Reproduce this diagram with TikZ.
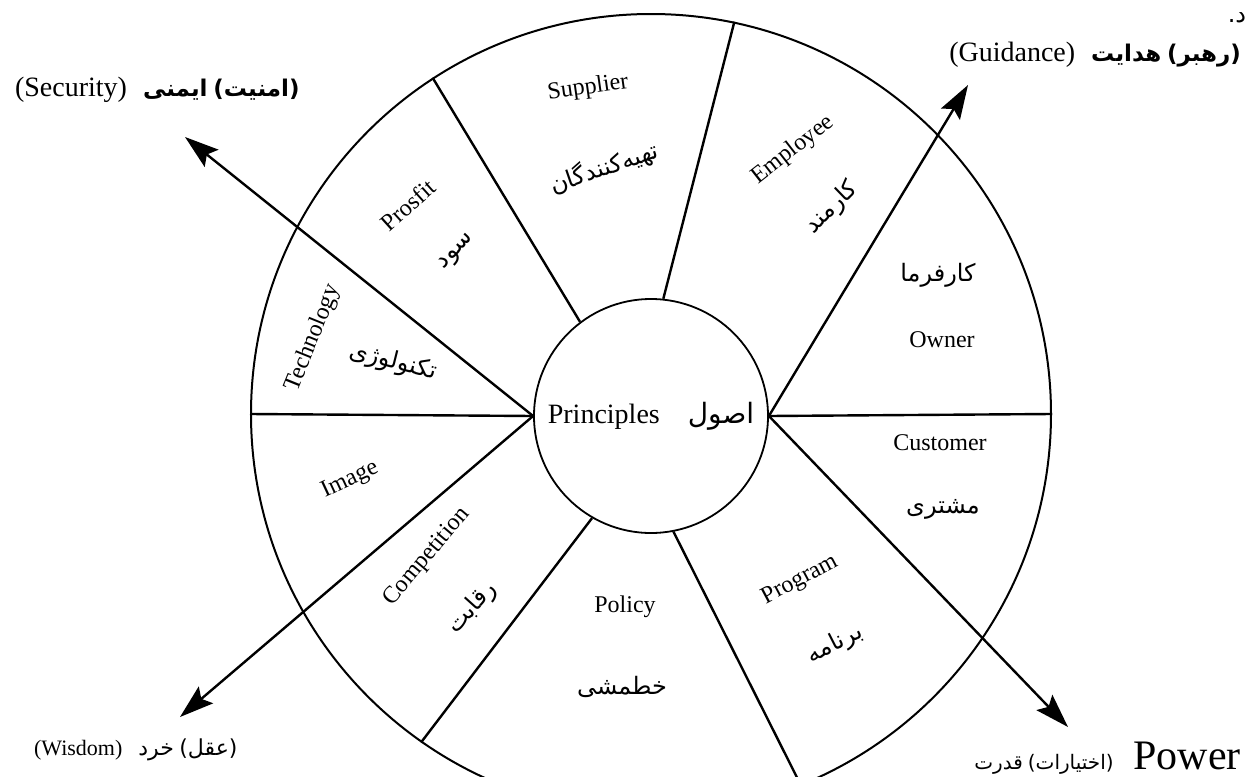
\documentclass[tikz,border=0pt]{standalone}
\usepackage{fontspec}
\setmainfont{Liberation Serif}
\newfontfamily\arabicfont[Script=Arabic]{DejaVu Sans}
\TeXXeTstate=1
\newcommand{\fa}[1]{{\arabicfont\beginR #1\endR}}
\newcommand{\fab}[1]{{\arabicfont\bfseries\beginR #1\endR}}
\usetikzlibrary{arrows.meta}

\begin{document}
\begin{tikzpicture}[x=.5pt,y=-.5pt,
    spoke/.style={line width=1.2pt},
    force/.style={line width=1.2pt,-{Stealth[length=17pt,width=11pt,inset=3pt]}},
    en/.style={font=\fontsize{12}{14}\selectfont,inner sep=0pt},
    fa/.style={font=\fontsize{12}{14}\selectfont,inner sep=0pt}]
  \path[use as bounding box,clip] (0,0) rectangle (1254,777);
  % wheel
  \node[draw,circle,line width=1pt,minimum size=400pt] (rim) at (651,414) {};
  \node[draw,circle,line width=.9pt,minimum size=117pt,inner sep=0pt] (core) at (651,416)
    {\fontsize{14}{16}\selectfont Principles\hspace{14pt}\fa{اصول}};
  % sector borders
  \draw[spoke] (core.127) -- (rim.123);
  \draw[spoke] (core.84) -- (rim.78);
  \draw[spoke] (core.east) -- (rim.east);
  \draw[spoke] (core.281) -- (rim.292);
  \draw[spoke] (core.240) -- (rim.235);
  \draw[spoke] (core.west) -- (rim.west);
  % the four directions
  \coordinate (sec) at (185,137);
  \coordinate (gui) at (968,85);
  \coordinate (wis) at (180,717);
  \coordinate (pow) at (1068,727);
  \draw[force] (core.west) -- (sec);
  \draw[force] (core.east) -- (gui);
  \draw[force] (core.west) -- (wis);
  \draw[force] (core.east) -- (pow);
  \node[anchor=west,font=\fontsize{14}{16}\selectfont] (secl) at (8,90)
    {(Security)\hspace{8pt}{\fontsize{11.5}{14}\selectfont\fab{ایمنی}\ \fab{(امنیت)}}};
  \node[anchor=east,font=\fontsize{14}{16}\selectfont] (guil) at (1248,55)
    {(Guidance)\hspace{8pt}{\fontsize{11.5}{14}\selectfont\fab{هدایت}\ \fab{(رهبر)}}};
  \node[anchor=west,font=\fontsize{11}{13}\selectfont] (wisl) at (27,750) {(Wisdom)\hspace{8pt}\fa{خرد}\ \fa{(عقل)}};
  \node[anchor=east,font=\fontsize{21}{24}\selectfont] (powl) at (1248,758)
    {{\fontsize{10}{12}\selectfont\fa{قدرت}\ \fa{(اختیارات)}}\hspace{10pt}Power};
  \node[fa] (frag) at (1237,18) {\fa{د.}};
  % sectors
  \node[en,rotate=8] (sup) at (588,88) {Supplier};
  \node[fa,rotate=19] (supfa) at (604,168) {\fa{تهیه‌کنندگان}};
  \node[en,rotate=38] (emp) at (793,150) {Employee};
  \node[fa,rotate=44] (empfa) at (832,208) {\fa{کارمند}};
  \node[fa] (ownfa) at (938,275) {\fa{کارفرما}};
  \node[en] (own) at (942,340) {Owner};
  \node[en] (cus) at (940,443) {Customer};
  \node[fa] (cusfa) at (943,509) {\fa{مشتری}};
  \node[en,rotate=28] (prg) at (800,580) {Program};
  \node[fa,rotate=27] (prgfa) at (835,644) {\fa{برنامه}};
  \node[en] (pol) at (625,607) {Policy};
  \node[fa] (polfa) at (622,687) {\fa{خطمشی}};
  \node[en,rotate=50] (cmp) at (427,557) {Competition};
  \node[fa,rotate=48] (cmpfa) at (472,608) {\fa{رقابت}};
  \node[en,rotate=25] (img) at (350,480) {Image};
  \node[en,rotate=68] (tec) at (313,338) {Technology};
  \node[fa,rotate=-14] (tecfa) at (393,362) {\fa{تکنولوژی}};
  \node[en,rotate=42] (prf) at (408,205) {Prosfit};
  \node[fa,rotate=47] (prffa) at (457,252) {\fa{سود}};
\end{tikzpicture}
\end{document}
